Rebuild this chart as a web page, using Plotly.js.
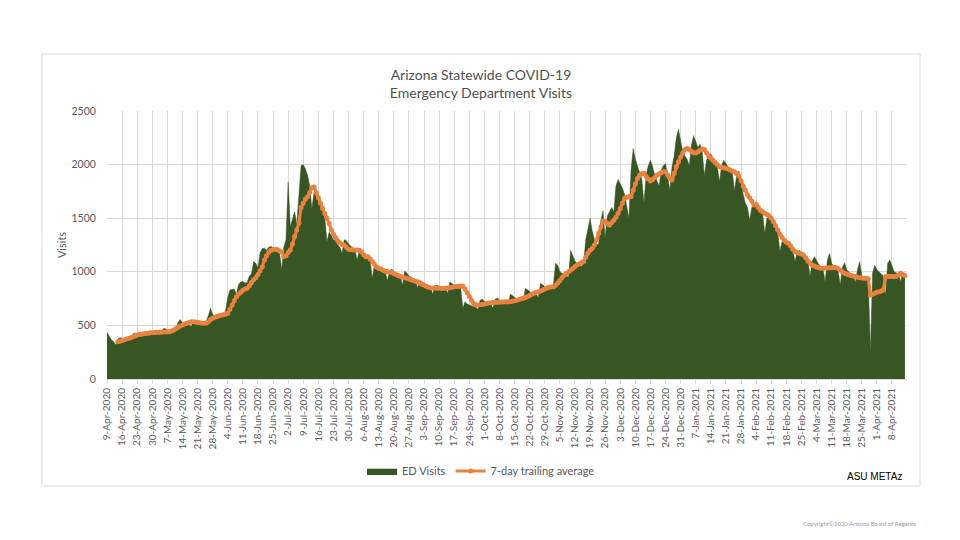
<!DOCTYPE html>
<html>
<head>
<meta charset="utf-8">
<script src="https://cdn.plot.ly/plotly-3.0.1.min.js"></script>
<style>html,body{margin:0;padding:0;background:#fff;}#chart{width:960px;height:540px;}</style>
</head>
<body>
<div id="chart"></div>
<script>
// First date of the daily series (9-Apr-2020); one value per day after it
const startDate = '2020-04-09';

// Daily emergency department visits, 9-Apr-2020 .. 14-Apr-2021
const edVisits = [
  435, 405, 365, 350,
  318, 372, 385, 380, 375, 372, 378,
  380, 420, 430, 418, 412, 408, 410,
  398, 442, 450, 436, 430, 425, 428,
  415, 468, 472, 455, 450, 445, 448,
  475, 530, 555, 520, 510, 505, 508,
  490, 535, 545, 530, 522, 518, 525,
  540, 590, 660, 600, 585, 580, 590,
  590, 600, 640, 760, 830, 835, 840,
  790, 880, 905, 910, 895, 900, 960,
  980, 1095, 1080, 1035, 1180, 1215, 1220,
  1200, 1230, 1235, 1225, 1215, 1225, 1180,
  1020, 1230, 1300, 1840, 1420, 1480, 1560,
  1440, 1700, 1990, 2000, 1960, 1900, 1800,
  1590, 1740, 1700, 1680, 1640, 1580, 1500,
  1280, 1370, 1340, 1300, 1290, 1250, 1230,
  1170, 1300, 1290, 1260, 1240, 1220, 1200,
  1110, 1205, 1200, 1180, 1160, 1140, 1110,
  940, 1060, 1050, 1040, 1030, 1010, 1000,
  920, 1000, 1025, 1000, 985, 975, 960,
  875, 1005, 990, 960, 950, 940, 925,
  850, 920, 910, 890, 880, 870, 860,
  790, 870, 875, 865, 855, 850, 845,
  800, 905, 890, 870, 860, 855, 850,
  660, 720, 700, 690, 680, 675, 670,
  650, 735, 745, 725, 715, 705, 700,
  660, 745, 755, 735, 725, 720, 715,
  690, 790, 780, 760, 750, 745, 740,
  730, 846, 830, 810, 800, 795, 790,
  760, 893, 880, 860, 850, 845, 850,
  880, 1080, 1060, 1000, 980, 970, 960,
  950, 1200, 1140, 1100, 1080, 1060, 1050,
  1080, 1300, 1420, 1500, 1380, 1300, 1250,
  1260, 1480, 1570, 1310, 1520, 1560, 1600,
  1560, 1800, 1860, 1820, 1780, 1720, 1620,
  1500, 1950, 2150, 2050, 1980, 1920, 1860,
  1640, 1900, 1990, 2040, 1980, 1900, 1850,
  1800, 1950, 1990, 2010, 1900, 1760, 1980,
  2080, 2250, 2330, 2220, 2120, 2080, 2050,
  1990, 2180, 2270, 2220, 2160, 2190, 2120,
  1900, 2040, 2090, 2100, 2060, 2020, 1980,
  1840, 1990, 2040, 2010, 1980, 1950, 1920,
  1760, 1900, 1940, 1850, 1720, 1640, 1600,
  1480, 1600, 1630, 1600, 1580, 1560, 1540,
  1360, 1500, 1546, 1500, 1460, 1420, 1380,
  1190, 1280, 1300, 1270, 1250, 1230, 1210,
  1095, 1180, 1204, 1170, 1150, 1130, 1110,
  955, 1100, 1141, 1100, 1070, 1050, 1030,
  908, 1100, 1173, 1080, 1050, 1030, 1010,
  877, 1040, 1085, 1020, 1000, 980, 970,
  900, 1020, 1095, 960, 940, 930, 920,
  255, 990, 1060, 1020, 1000, 980, 960,
  784, 1080, 1110, 1050, 1000, 990, 980,
  908, 990, 975
];

// 7-day trailing average, starting 14-Apr-2020 (day index 5)
const avgStartIndex = 5;
const trailingAvg = [
  348, 352, 358, 365, 372, 378, 385, 393, 402, 410,
  414, 418, 421, 424, 427, 430, 432, 434, 435, 436,
  437, 438, 439, 440, 441, 447, 457, 470, 482, 494,
  504, 512, 520, 528, 533, 535, 532, 528, 524, 521,
  520, 522, 535, 555, 566, 575, 583, 590, 595, 600,
  606, 613, 650, 690, 730, 768, 790, 810, 828, 840,
  846, 870, 900, 925, 945, 975, 1010, 1048, 1110, 1150,
  1180, 1200, 1206, 1210, 1205, 1195, 1185, 1140, 1150, 1180,
  1204, 1260, 1330, 1390, 1455, 1600, 1640, 1680, 1700, 1740,
  1785, 1790, 1740, 1690, 1639, 1590, 1545, 1499, 1450, 1390,
  1350, 1320, 1290, 1270, 1255, 1250, 1230, 1210, 1205, 1205,
  1204, 1204, 1200, 1185, 1160, 1141, 1141, 1120, 1095, 1070,
  1045, 1033, 1025, 1015, 1005, 1000, 997, 995, 985, 975,
  965, 958, 950, 945, 940, 932, 925, 918, 912, 908,
  895, 885, 877, 865, 856, 852, 850, 848, 847, 846,
  846, 846, 846, 848, 852, 856, 860, 864, 866, 868,
  868, 840, 805, 770, 735, 705, 692, 690, 692, 695,
  700, 705, 710, 712, 714, 715, 716, 717, 718, 719,
  720, 721, 721, 725, 730, 735, 742, 748, 753, 760,
  770, 780, 790, 800, 810, 815, 822, 830, 840, 848,
  855, 858, 861, 875, 895, 920, 945, 970, 985, 1000,
  1015, 1030, 1050, 1064, 1075, 1085, 1095, 1135, 1173, 1200,
  1220, 1250, 1300, 1360, 1420, 1474, 1470, 1450, 1437, 1460,
  1480, 1510, 1546, 1590, 1640, 1686, 1695, 1700, 1701, 1760,
  1820, 1870, 1900, 1915, 1919, 1890, 1865, 1847, 1860, 1880,
  1900, 1915, 1925, 1934, 1934, 1900, 1870, 1857, 1920, 1980,
  2027, 2070, 2110, 2140, 2150, 2140, 2125, 2110, 2108, 2120,
  2135, 2145, 2140, 2110, 2080, 2059, 2040, 2020, 2000, 1981,
  1975, 1970, 1966, 1958, 1950, 1940, 1934, 1915, 1894, 1850,
  1800, 1760, 1717, 1690, 1660, 1623, 1630, 1600, 1575, 1560,
  1546, 1535, 1520, 1499, 1470, 1430, 1390, 1350, 1320, 1295,
  1275, 1266, 1240, 1210, 1190, 1178, 1173, 1165, 1157, 1130,
  1100, 1080, 1064, 1055, 1045, 1038, 1033, 1033, 1035, 1036,
  1037, 1038, 1039, 1039, 1030, 1015, 1000, 986, 980, 972,
  965, 960, 955, 950, 945, 942, 940, 939, 935, 784,
  790, 800, 810, 815, 822, 830, 955, 958, 955, 955,
  955, 958, 970, 986, 975, 965
];

const seriesNames = ['ED Visits', '7-day trailing average'];
const yTicks = [0, 500, 1000, 1500, 2000, 2500];

// ---- build date axis values ----
const DAY = 86400000;
const t0 = Date.parse(startDate + 'T00:00:00Z');
const dayDate = i => new Date(t0 + i * DAY).toISOString().slice(0, 10);
const visitDates = edVisits.map((_, i) => dayDate(i));
const avgDates = trailingAvg.map((_, i) => dayDate(i + avgStartIndex));

const font = 'Lato, "Open Sans", sans-serif';
const grey = '#595959';

// paper-coordinate helpers (plot area: x 107..907, y 111..379)
const PL = 107, PR = 907, PT = 111, PB = 379;
const px = v => (v - PL) / (PR - PL);
const py = v => (PB - v) / (PB - PT);

const traces = [
  {
    x: visitDates, y: edVisits, name: seriesNames[0],
    type: 'scatter', mode: 'lines', fill: 'tozeroy',
    fillcolor: '#375623', line: {color: '#375623', width: 0.5},
    hoverinfo: 'x+y'
  },
  {
    x: avgDates, y: trailingAvg, name: seriesNames[1],
    type: 'scatter', mode: 'lines+markers',
    line: {color: '#E9823F', width: 3.2},
    marker: {color: '#E9823F', size: 5, symbol: 'circle'}
  }
];

const layout = {
  width: 960, height: 540,
  paper_bgcolor: '#ffffff', plot_bgcolor: '#ffffff',
  margin: {l: PL, r: 960 - PR, t: PT, b: 540 - PB, pad: 0},
  font: {family: font, color: grey, size: 10},
  title: {
    text: 'Arizona Statewide COVID-19<br>Emergency Department Visits',
    font: {family: font, size: 14, color: '#505050'},
    x: 0.501, xref: 'container', xanchor: 'center',
    y: 1 - 80 / 540, yref: 'container', yanchor: 'middle'
  },
  showlegend: true,
  legend: {
    orientation: 'h', x: px(481), xanchor: 'center', y: py(471), yanchor: 'middle',
    font: {family: font, size: 11, color: grey}, bgcolor: 'rgba(0,0,0,0)',
    itemwidth: 30, tracegroupgap: 0
  },
  xaxis: {
    type: 'date',
    range: [startDate, '2021-04-14 23:00'],
    tick0: startDate, dtick: 7 * DAY,
    tickformat: '%-d-%b-%Y', tickangle: -90,
    tickfont: {family: font, size: 10, color: grey},
    ticks: 'outside', ticklen: 4, tickcolor: '#d9d9d9',
    showgrid: true, gridcolor: '#d9d9d9', gridwidth: 1,
    showline: true, linecolor: '#d9d9d9', linewidth: 1,
    zeroline: false, fixedrange: true
  },
  yaxis: {
    range: [0, 2500], tickvals: yTicks,
    tickfont: {family: font, size: 10.5, color: grey},
    ticks: 'outside', ticklen: 8, tickcolor: 'rgba(0,0,0,0)',
    showgrid: true, gridcolor: '#d9d9d9', gridwidth: 1,
    showline: false, zeroline: false, fixedrange: true,
    title: {text: 'Visits', font: {family: font, size: 11, color: grey}, standoff: 2}
  },
  shapes: [
    {type: 'rect', xref: 'paper', yref: 'paper',
     x0: px(42), x1: px(920), y0: py(486), y1: py(54),
     line: {color: '#d9d9d9', width: 1}, fillcolor: 'rgba(0,0,0,0)', layer: 'below'}
  ],
  annotations: [
    {text: 'ASU METAz', xref: 'paper', yref: 'paper', x: px(904), y: py(476),
     xanchor: 'right', yanchor: 'middle', showarrow: false,
     font: {family: '"Liberation Sans", Arial, sans-serif', size: 10, color: '#000000'}},
    {text: 'Copyright©2020 Arizona Board of Regents', xref: 'paper', yref: 'paper',
     x: px(918), y: py(523), xanchor: 'right', yanchor: 'middle', showarrow: false,
     font: {family: font, size: 6, color: '#999999'}}
  ]
};

Plotly.newPlot('chart', traces, layout, {displayModeBar: false, staticPlot: true});
</script>
</body>
</html>
